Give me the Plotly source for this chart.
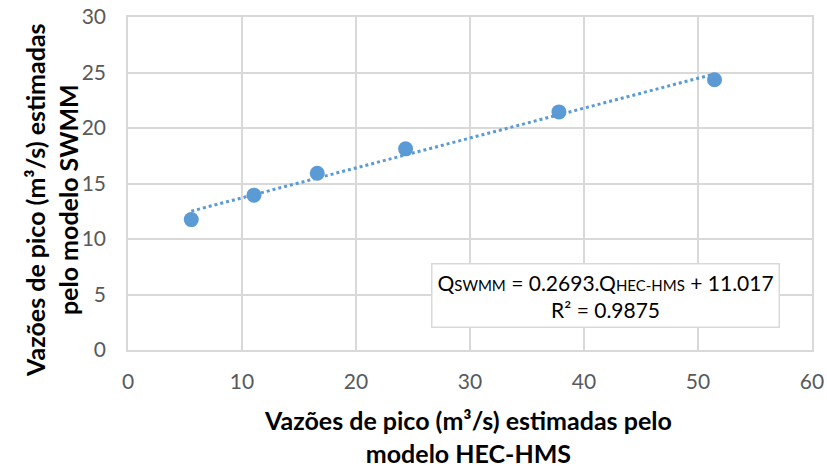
import plotly.graph_objects as go

q_hec_hms = [5.55, 11.05, 16.6, 24.35, 37.8, 51.45]
q_swmm = [11.75, 13.95, 15.92, 18.12, 21.45, 24.35]
slope = 0.2693
intercept = 11.017
x_ticks = [0, 10, 20, 30, 40, 50, 60]
y_ticks = [0, 5, 10, 15, 20, 25, 30]

color = "#5B9BD5"
grid = "#D9D9D9"
font_family = "Lato, 'Open Sans', sans-serif"

trend_x = [min(q_hec_hms), max(q_hec_hms)]
trend_y = [slope * v + intercept for v in trend_x]

fig = go.Figure()
fig.add_trace(go.Scatter(x=trend_x, y=trend_y, mode="lines",
                         line=dict(color=color, width=3, dash="dot"),
                         hoverinfo="skip", showlegend=False))
fig.add_trace(go.Scatter(x=q_hec_hms, y=q_swmm, mode="markers",
                         marker=dict(color=color, size=15),
                         showlegend=False))

fig.update_xaxes(range=[0, 60], tickvals=x_ticks, showgrid=True, gridcolor=grid, gridwidth=1.5,
                 showline=True, linecolor=grid, linewidth=1.5, mirror=True, zeroline=False,
                 tickfont=dict(size=21, color="#595959", family=font_family), ticks="",
                 ticklabelstandoff=12, automargin=False)
fig.update_yaxes(range=[0, 30], tickvals=y_ticks, showgrid=True, gridcolor=grid, gridwidth=1.5,
                 showline=True, linecolor=grid, linewidth=1.5, mirror=True, zeroline=False,
                 tickfont=dict(size=21, color="#595959", family=font_family), ticks="",
                 ticklabelstandoff=16, automargin=False)

L, R, T, B = 128, 15, 17, 118
W, H = 827, 468
pw, ph = W - L - R, H - T - B

def px(xp):
    return (xp - L) / pw

def py(yp):
    return (H - B - yp) / ph

title_font = dict(size=25, color="black", family=font_family)
fig.add_annotation(x=px(468), y=py(436), xref="paper", yref="paper",
                   xanchor="center", yanchor="middle", showarrow=False, align="center",
                   text="<b>Vazões de pico (m³/s) estimadas pelo<br>modelo HEC-HMS</b>",
                   font=title_font)
fig.add_annotation(x=px(52), y=py(200), xref="paper", yref="paper",
                   xanchor="center", yanchor="middle", showarrow=False, align="center",
                   textangle=-90,
                   text="<b>Vazões de pico (m³/s) estimadas<br>pelo modelo SWMM</b>",
                   font=title_font)

fig.add_annotation(
    x=px(605), y=py(295), xref="paper", yref="paper",
    xanchor="center", yanchor="middle",
    text=("Q<span style='font-size:15px'>SWMM</span> = 0.2693.Q<span style='font-size:15px'>HEC-HMS</span> + 11.017"
          "<br>R² = 0.9875"),
    showarrow=False, align="center",
    font=dict(size=21, color="black", family=font_family),
    bgcolor="white", bordercolor=grid, borderwidth=1.5, borderpad=5,
)

fig.update_layout(width=W, height=H, margin=dict(l=L, r=R, t=T, b=B, autoexpand=False),
                  plot_bgcolor="white", paper_bgcolor="white",
                  font=dict(family=font_family))
fig.write_html("out.html")
